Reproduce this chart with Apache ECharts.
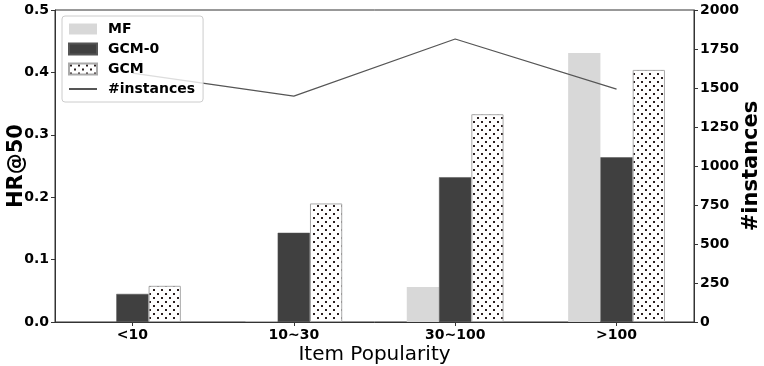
<!DOCTYPE html>
<html>
<head>
<meta charset="utf-8">
<script src="https://cdn.jsdelivr.net/npm/echarts@6/dist/echarts.min.js"></script>
<style>
  html, body { margin: 0; padding: 0; background: #fff; }
  #chart { width: 764px; height: 366px; }
</style>
</head>
<body>
<div id="chart"></div>
<script>
// data
const categories = ['<10', '10~30', '30~100', '>100'];
const mfValues = [0, 0.001, 0.056, 0.431];
const gcm0Values = [0.045, 0.143, 0.232, 0.264];
const gcmValues = [0.058, 0.19, 0.333, 0.404];
const instanceValues = [1595, 1448, 1814, 1493];

const FONT = 'DejaVu Sans';
const BAR_STEP = 0.2; // bar offset inside a group, in category units

// dotted hatch like matplotlib '.'
function dotPattern() {
	let c = document.createElement('canvas');
	c.width = 8;
	c.height = 8;
	let ctx = c.getContext('2d');
	ctx.fillStyle = '#fff';
	ctx.fillRect(0, 0, 8, 8);
	ctx.fillStyle = '#2a1f1f';
	ctx.fillRect(1, 1, 2, 2);
	ctx.fillRect(5, 5, 2, 2);
	return { image: c, repeat: 'repeat' };
}

function toPoints(values, offset) {
	return values.map((v, i) => [i + offset, v]);
}

let chart = echarts.init(document.getElementById('chart'), null, { renderer: 'canvas' });
let grid = { left: 55, right: 70, top: 10, bottom: 44 };
let xMin = -0.48, xMax = 3.48;
let pxPerUnit = (764 - grid.left - grid.right) / (xMax - xMin);
let barWidth = BAR_STEP * pxPerUnit;

let tickStyle = { fontFamily: FONT, fontWeight: 'bold', fontSize: 14, color: '#000' };

let option = {
	animation: false,
	grid: Object.assign({
		show: true,
		borderColor: '#333',
		borderWidth: 1,
		containLabel: false,
		outerBoundsMode: 'none'
	}, grid),
	legend: {
		left: 62,
		top: 16,
		orient: 'vertical',
		itemWidth: 28,
		itemHeight: 11,
		itemGap: 6,
		padding: [6, 8, 6, 6],
		backgroundColor: 'rgba(255,255,255,0.8)',
		borderColor: '#ccc',
		borderWidth: 1,
		borderRadius: 3,
		textStyle: { fontFamily: FONT, fontWeight: 'bold', fontSize: 14, color: '#000', padding: [0, 0, 0, 6] },
		data: [
			{ name: 'MF', icon: 'rect' },
			{ name: 'GCM-0', icon: 'rect' },
			{ name: 'GCM', icon: 'rect' },
			{ name: '#instances', itemStyle: { color: 'transparent', borderWidth: 0 } }
		]
	},
	xAxis: {
		type: 'value',
		min: xMin,
		max: xMax,
		name: 'Item Popularity',
		nameLocation: 'middle',
		nameGap: 23,
		nameMoveOverlap: false,
		nameTextStyle: { fontFamily: FONT, fontSize: 20, color: '#000' },
		splitLine: { show: false },
		axisLine: { onZero: false, lineStyle: { color: '#333', width: 1 } },
		axisTick: { customValues: [0, 1, 2, 3], length: 4, lineStyle: { color: '#333' } },
		axisLabel: Object.assign({
			customValues: [0, 1, 2, 3],
			margin: 6,
			formatter: v => categories[Math.round(v)]
		}, tickStyle)
	},
	yAxis: [{
		type: 'value',
		min: 0,
		max: 0.5,
		interval: 0.1,
		name: 'HR@50',
		nameLocation: 'middle',
		nameGap: 28,
		nameMoveOverlap: false,
		nameTextStyle: { fontFamily: FONT, fontWeight: 'bold', fontSize: 21, color: '#000' },
		splitLine: { show: false },
		axisLine: { show: true, onZero: false, lineStyle: { color: '#333' } },
		axisTick: { show: true, length: 4, lineStyle: { color: '#333' } },
		axisLabel: Object.assign({ margin: 6, formatter: v => v.toFixed(1) }, tickStyle)
	}, {
		type: 'value',
		min: 0,
		max: 2000,
		interval: 250,
		name: '#instances',
		nameLocation: 'middle',
		nameGap: 47,
		nameMoveOverlap: false,
		nameTextStyle: { fontFamily: FONT, fontWeight: 'bold', fontSize: 21, color: '#000' },
		splitLine: { show: false },
		axisLine: { show: true, onZero: false, lineStyle: { color: '#333' } },
		axisTick: { show: true, length: 4, lineStyle: { color: '#333' } },
		axisLabel: Object.assign({ margin: 6, formatter: v => String(v) }, tickStyle)
	}],
	series: [{
		name: 'MF',
		type: 'bar',
		barWidth: barWidth,
		barGap: '-100%',
		itemStyle: { color: '#d8d8d8' },
		data: toPoints(mfValues, -BAR_STEP)
	}, {
		name: 'GCM-0',
		type: 'bar',
		barWidth: barWidth,
		barGap: '-100%',
		itemStyle: { color: '#404040', borderColor: '#555', borderWidth: 0.5 },
		data: toPoints(gcm0Values, 0)
	}, {
		name: 'GCM',
		type: 'bar',
		barWidth: barWidth,
		barGap: '-100%',
		itemStyle: { color: dotPattern(), borderColor: '#aaa', borderWidth: 1 },
		data: toPoints(gcmValues, BAR_STEP)
	}, {
		name: '#instances',
		type: 'line',
		yAxisIndex: 1,
		symbol: 'none',
		lineStyle: { color: '#555', width: 1.2 },
		itemStyle: { color: '#555' },
		data: toPoints(instanceValues, 0)
	}]
};

chart.setOption(option);
</script>
</body>
</html>
